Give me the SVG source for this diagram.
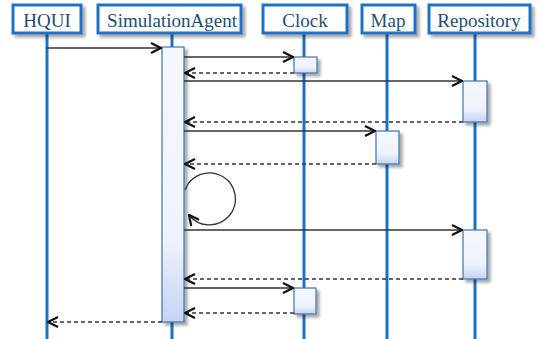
<svg xmlns="http://www.w3.org/2000/svg" width="537" height="339" viewBox="0 0 537 339">
  <style>
    .box { fill: #ffffff; stroke: #1e72c6; stroke-width: 3; filter: url(#shadow); }
    .name { font-family: "Liberation Serif", "Times New Roman", serif; font-size: 19px; fill: #1d4f73; text-anchor: middle; }
    .life { stroke: #1e72c6; stroke-width: 3; }
    .act { fill: url(#actFill); stroke: #3d74b4; stroke-width: 1.2; filter: url(#shadow); }
    .msg { fill: none; stroke: #333333; stroke-width: 1.3; marker-end: url(#arrow); }
    .ret { stroke-dasharray: 4 3; }
  </style>
  <defs>
    <linearGradient id="actFill" x1="0" y1="0" x2="0" y2="1">
      <stop offset="0" stop-color="#f6f8fe"/>
      <stop offset="0.7" stop-color="#eef2fc"/>
      <stop offset="1" stop-color="#c4d4f4"/>
    </linearGradient>
    <filter id="shadow" x="-20%" y="-20%" width="150%" height="150%">
      <feGaussianBlur in="SourceAlpha" stdDeviation="1.5"/>
      <feOffset dx="2.5" dy="2.5" result="off"/>
      <feComponentTransfer><feFuncA type="linear" slope="0.35"/></feComponentTransfer>
      <feMerge><feMergeNode/><feMergeNode in="SourceGraphic"/></feMerge>
    </filter>
    <marker id="arrow" viewBox="0 0 12 12" refX="11" refY="6" markerWidth="12" markerHeight="12" markerUnits="userSpaceOnUse" orient="auto">
      <path d="M1,1 L11,6 L1,11" fill="none" stroke="#111111" stroke-width="2.2" stroke-linejoin="miter"/>
    </marker>
  </defs>

  <!-- lifelines -->
  <g id="lifelines">
    <line class="life" x1="47" y1="33" x2="47" y2="339"/>
    <line class="life" x1="172" y1="33" x2="172" y2="339"/>
    <line class="life" x1="304" y1="33" x2="304" y2="339"/>
    <line class="life" x1="387" y1="33" x2="387" y2="339"/>
    <line class="life" x1="475" y1="33" x2="475" y2="339"/>
  </g>

  <g id="HQUI">
    <rect class="box" x="13" y="5" width="68" height="28"/>
    <text class="name" x="47" y="27">HQUI</text>
  </g>
  <g id="SimulationAgent">
    <rect class="box" x="98" y="5" width="143" height="28"/>
    <text class="name" x="172" y="27">SimulationAgent</text>
    <rect class="act" x="162" y="47" width="22" height="275"/>
  </g>
  <g id="Clock">
    <rect class="box" x="263" y="5" width="84" height="28"/>
    <text class="name" x="305" y="27">Clock</text>
    <rect class="act" x="294" y="57" width="23" height="16"/>
    <rect class="act" x="294" y="288" width="22" height="26"/>
  </g>
  <g id="Map">
    <rect class="box" x="362" y="5" width="53" height="28"/>
    <text class="name" x="388" y="27">Map</text>
    <rect class="act" x="376" y="131" width="23" height="33"/>
  </g>
  <g id="Repository">
    <rect class="box" x="429" y="5" width="101" height="28"/>
    <text class="name" x="479" y="27">Repository</text>
    <rect class="act" x="463" y="81" width="24" height="41"/>
    <rect class="act" x="463" y="230" width="24" height="49"/>
  </g>

  <!-- messages -->
  <g id="connectors">
    <line class="msg" x1="47" y1="48" x2="161" y2="48"/>
    <line class="msg" x1="184" y1="57" x2="293" y2="57"/>
    <line class="msg ret" x1="294" y1="73" x2="185" y2="73"/>
    <line class="msg" x1="184" y1="81" x2="462" y2="81"/>
    <line class="msg ret" x1="463" y1="122" x2="185" y2="122"/>
    <line class="msg" x1="184" y1="131" x2="375" y2="131"/>
    <line class="msg ret" x1="376" y1="164" x2="185" y2="164"/>
    <path class="msg" d="M185,190 A26,26 0 1 1 189,215"/>
    <line class="msg" x1="184" y1="230" x2="462" y2="230"/>
    <line class="msg ret" x1="463" y1="279" x2="185" y2="279"/>
    <line class="msg" x1="184" y1="288" x2="293" y2="288"/>
    <line class="msg ret" x1="294" y1="313" x2="185" y2="313"/>
    <line class="msg ret" x1="162" y1="322" x2="48" y2="322"/>
  </g>
</svg>
